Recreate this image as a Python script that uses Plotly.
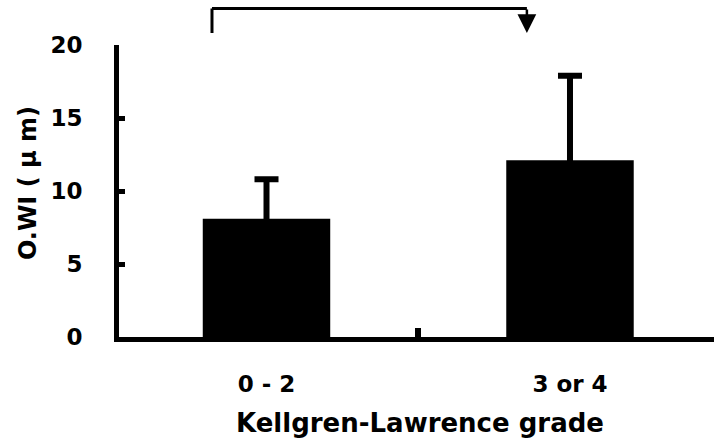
import plotly.graph_objects as go

categories = ["0 - 2", "3 or 4"]
owi_mean = [8.1, 12.1]
owi_sd = [2.7, 5.8]
y_ticks = [0, 5, 10, 15, 20]

FONT = "DejaVu Sans"

fig = go.Figure()
fig.add_trace(go.Bar(
    x=categories, y=owi_mean, width=0.42,
    marker=dict(color="black", line=dict(width=0)),
    # lower whisker kept inside the black bar so only the upper one shows
    error_y=dict(type="data", symmetric=False, array=owi_sd,
                 arrayminus=[0.3] * len(owi_sd), color="black",
                 thickness=6, width=12),
))

fig.update_layout(
    width=714, height=446,
    margin=dict(l=119, r=0, t=45, b=109),
    plot_bgcolor="white", paper_bgcolor="white",
    showlegend=False,
    font=dict(family=FONT, color="black"),
    xaxis=dict(
        type="category", range=[-0.486, 1.4745],
        showline=True, linecolor="black", linewidth=5,
        ticks="inside", tickson="boundaries", ticklen=9, tickwidth=6,
        tickcolor="black",
        tickfont=dict(family=FONT, size=23, color="black", weight="bold"),
        ticklabelstandoff=22,
        showgrid=False, zeroline=False,
    ),
    yaxis=dict(
        range=[0, 20], tickvals=y_ticks,
        showline=True, linecolor="black", linewidth=5,
        ticks="inside", ticklen=6, tickwidth=4.5, tickcolor="black",
        tickfont=dict(family=FONT, size=23, color="black", weight="bold"),
        ticklabelstandoff=27,
        showgrid=False, zeroline=False,
    ),
)

# axis titles
fig.add_annotation(xref="paper", yref="paper", x=0.506, y=0,
                   xanchor="center", yanchor="middle", yshift=-86,
                   showarrow=False,
                   text="<b>Kellgren-Lawrence grade</b>",
                   font=dict(family=FONT, size=26, color="black"))
fig.add_annotation(xref="paper", yref="paper", x=0, y=0.527,
                   xanchor="center", yanchor="middle", xshift=-91,
                   textangle=-90, showarrow=False,
                   text="<b>O.WI ( μ m)</b>",
                   font=dict(family=FONT, size=24, color="black"))

# significance bracket with arrow
fig.add_shape(type="line", xref="x", yref="paper",
              x0=-0.1796, x1=-0.1796, y0=1.041, y1=1.125,
              line=dict(color="black", width=3))
fig.add_shape(type="line", xref="x", yref="paper",
              x0=-0.1796, x1=0.858, y0=1.125, y1=1.125,
              line=dict(color="black", width=3))
fig.add_annotation(xref="x", yref="paper", x=0.858, y=1.041,
                   ax=0, ay=-25, showarrow=True, arrowhead=2,
                   arrowsize=1.5, arrowwidth=2.5, arrowcolor="black", text="")

fig.write_html("out.html", config={"displayModeBar": False},
               post_script="document.body.style.margin='0px';")
